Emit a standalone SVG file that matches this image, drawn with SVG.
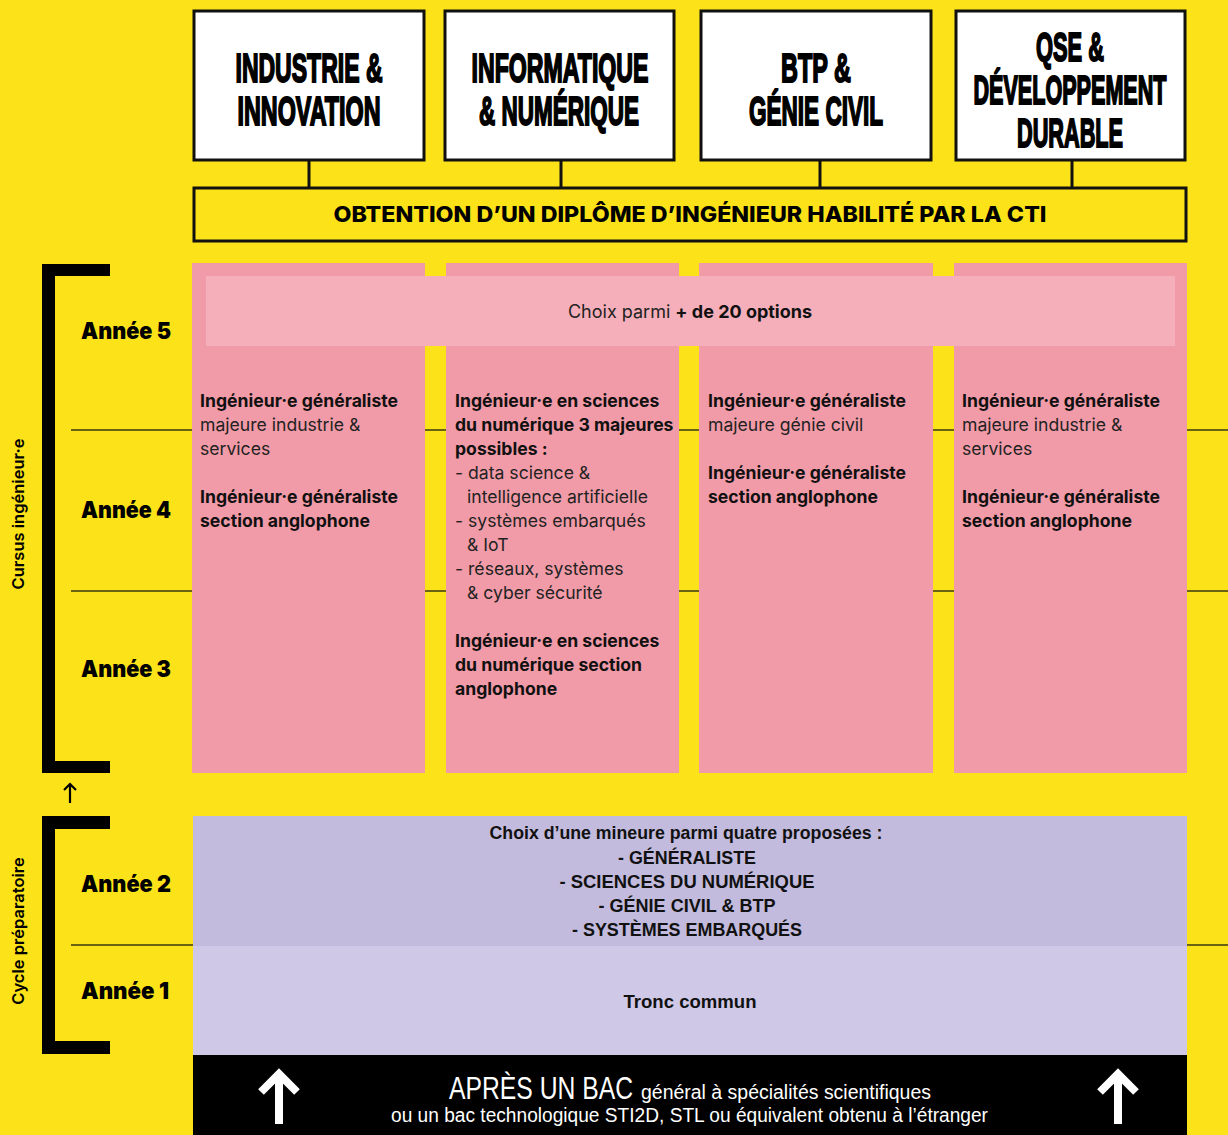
<svg xmlns="http://www.w3.org/2000/svg" width="1228" height="1135" viewBox="0 0 1228 1135">
<defs>
<style>
.hdr{font-family:"Liberation Sans",Arial,sans-serif;font-weight:bold;font-size:41px;fill:#000;stroke:#000;stroke-width:2;text-anchor:middle}
.box{fill:#fff;stroke:#111;stroke-width:3}
.conn{stroke:#111;stroke-width:3;fill:none}
.bar{fill:#FCE319;stroke:#111;stroke-width:3}
.cti{font-family:"Inter","Liberation Sans",sans-serif;font-weight:800;font-size:22px;fill:#000;text-anchor:middle}
.col{fill:#F29BA8}
.band{fill:#F5AFBA}
.b{font-family:"Inter","Liberation Sans",sans-serif;font-weight:700;font-size:17.6px;fill:#111}
.r{font-family:"Inter","Liberation Sans",sans-serif;font-weight:400;font-size:17.6px;fill:#222}
.yr{font-family:"Inter","Liberation Sans",sans-serif;font-weight:900;font-size:23px;fill:#000}
.rot{font-family:"Inter","Liberation Sans",sans-serif;font-weight:600;font-size:16.5px;fill:#000;text-anchor:middle}
.hl{stroke:#3a3a10;stroke-width:1.5}
.cond{font-family:"Liberation Sans",Arial,sans-serif;font-weight:bold;font-size:19px;fill:#111;text-anchor:middle}
.wht{font-family:"Liberation Sans",Arial,sans-serif;fill:#fff}
</style>
</defs>
<rect x="0" y="0" width="1228" height="1135" fill="#FCE319"/>

<!-- horizontal year lines -->
<g id="year-lines">
<line class="hl" x1="71" y1="430" x2="1228" y2="430"/>
<line class="hl" x1="71" y1="591" x2="1228" y2="591"/>
<line class="hl" x1="71" y1="945" x2="1228" y2="945"/>
</g>

<!-- connectors -->
<g id="connectors">
<line class="conn" x1="309" y1="160" x2="309" y2="187"/>
<line class="conn" x1="561" y1="160" x2="561" y2="187"/>
<line class="conn" x1="820" y1="160" x2="820" y2="187"/>
<line class="conn" x1="1072" y1="160" x2="1072" y2="187"/>
</g>

<g id="domain-industrie">
<rect class="box" x="194" y="11" width="230" height="149"/>
<text class="hdr" x="309" y="82" textLength="147" lengthAdjust="spacingAndGlyphs">INDUSTRIE &amp;</text>
<text class="hdr" x="309" y="125" textLength="143" lengthAdjust="spacingAndGlyphs">INNOVATION</text>
</g>
<g id="domain-informatique">
<rect class="box" x="445" y="11" width="229" height="149"/>
<text class="hdr" x="560" y="82" textLength="177" lengthAdjust="spacingAndGlyphs">INFORMATIQUE</text>
<text class="hdr" x="559" y="125" textLength="160" lengthAdjust="spacingAndGlyphs">&amp; NUMÉRIQUE</text>
</g>
<g id="domain-btp">
<rect class="box" x="701" y="11" width="230" height="149"/>
<text class="hdr" x="816" y="82" textLength="70" lengthAdjust="spacingAndGlyphs">BTP &amp;</text>
<text class="hdr" x="816" y="125" textLength="134" lengthAdjust="spacingAndGlyphs">GÉNIE CIVIL</text>
</g>
<g id="domain-qse">
<rect class="box" x="956" y="11" width="229" height="149"/>
<text class="hdr" x="1070" y="61" textLength="68" lengthAdjust="spacingAndGlyphs">QSE &amp;</text>
<text class="hdr" x="1070" y="104" textLength="193" lengthAdjust="spacingAndGlyphs">DÉVELOPPEMENT</text>
<text class="hdr" x="1070" y="147" textLength="106" lengthAdjust="spacingAndGlyphs">DURABLE</text>
</g>

<g id="diplome">
<rect class="bar" x="194" y="188" width="992" height="53"/>
<text class="cti" x="690" y="222" textLength="713" lengthAdjust="spacingAndGlyphs">OBTENTION D’UN DIPLÔME D’INGÉNIEUR HABILITÉ PAR LA CTI</text>
</g>

<!-- pink columns -->
<g id="col-industrie">
<rect class="col" x="192" y="263" width="233" height="510"/>
</g>
<g id="col-informatique">
<rect class="col" x="446" y="263" width="233" height="510"/>
</g>
<g id="col-btp">
<rect class="col" x="699" y="263" width="234" height="510"/>
</g>
<g id="col-qse">
<rect class="col" x="954" y="263" width="233" height="510"/>
</g>

<g id="options">
<rect class="band" x="206" y="276" width="969" height="70"/>
<text x="690" y="318" text-anchor="middle" style="font-family:'Inter','Liberation Sans',sans-serif;font-size:18px;fill:#222"><tspan>Choix parmi </tspan><tspan font-weight="700" fill="#111">+ de 20 options</tspan></text>
</g>

<g id="text-industrie">
<text class="b" x="200" y="407">Ingénieur·e généraliste</text>
<text class="r" x="200" y="431">majeure industrie &amp;</text>
<text class="r" x="200" y="455">services</text>
<text class="b" x="200" y="503">Ingénieur·e généraliste</text>
<text class="b" x="200" y="527">section anglophone</text>
</g>
<g id="text-informatique">
<text class="b" x="455" y="407">Ingénieur·e en sciences</text>
<text class="b" x="455" y="431">du numérique 3 majeures</text>
<text class="b" x="455" y="455">possibles :</text>
<text class="r" x="455" y="479">- data science &amp;</text>
<text class="r" x="467" y="503">intelligence artificielle</text>
<text class="r" x="455" y="527">- systèmes embarqués</text>
<text class="r" x="467" y="551">&amp; IoT</text>
<text class="r" x="455" y="575">- réseaux, systèmes</text>
<text class="r" x="467" y="599">&amp; cyber sécurité</text>
<text class="b" x="455" y="647">Ingénieur·e en sciences</text>
<text class="b" x="455" y="671">du numérique section</text>
<text class="b" x="455" y="695">anglophone</text>
</g>
<g id="text-btp">
<text class="b" x="708" y="407">Ingénieur·e généraliste</text>
<text class="r" x="708" y="431">majeure génie civil</text>
<text class="b" x="708" y="479">Ingénieur·e généraliste</text>
<text class="b" x="708" y="503">section anglophone</text>
</g>
<g id="text-qse">
<text class="b" x="962" y="407">Ingénieur·e généraliste</text>
<text class="r" x="962" y="431">majeure industrie &amp;</text>
<text class="r" x="962" y="455">services</text>
<text class="b" x="962" y="503">Ingénieur·e généraliste</text>
<text class="b" x="962" y="527">section anglophone</text>
</g>

<!-- brackets -->
<g id="bracket-cursus">
<path d="M110 264 H42 V773 H110 V761 H55 V276 H110 Z" fill="#000"/>
<text class="rot" transform="translate(24 514) rotate(-90)">Cursus ingénieur·e</text>
</g>
<g id="bracket-cycle">
<path d="M110 816 H42 V1054 H110 V1041 H55 V829 H110 Z" fill="#000"/>
<text class="rot" transform="translate(24 931) rotate(-90)">Cycle préparatoire</text>
</g>
<g id="small-arrow">
<path d="M70 803 V784 M64 790 L70 784 L76 790" stroke="#000" stroke-width="2.2" fill="none"/>
</g>

<g id="years">
<text class="yr" x="81" y="339" textLength="90" lengthAdjust="spacingAndGlyphs">Année 5</text>
<text class="yr" x="81" y="518" textLength="90" lengthAdjust="spacingAndGlyphs">Année 4</text>
<text class="yr" x="81" y="677" textLength="90" lengthAdjust="spacingAndGlyphs">Année 3</text>
<text class="yr" x="81" y="892" textLength="90" lengthAdjust="spacingAndGlyphs">Année 2</text>
<text class="yr" x="81" y="999" textLength="88" lengthAdjust="spacingAndGlyphs">Année 1</text>
</g>

<g id="annee2">
<rect x="193" y="816" width="994" height="130" fill="#C3BBDD"/>
<text class="cond" x="686" y="839" textLength="393" lengthAdjust="spacingAndGlyphs">Choix d’une mineure parmi quatre proposées  :</text>
<text class="cond" x="687" y="864" textLength="138" lengthAdjust="spacingAndGlyphs">- GÉNÉRALISTE</text>
<text class="cond" x="687" y="888" textLength="255" lengthAdjust="spacingAndGlyphs">- SCIENCES DU NUMÉRIQUE</text>
<text class="cond" x="687" y="912" textLength="177" lengthAdjust="spacingAndGlyphs">- GÉNIE CIVIL &amp; BTP</text>
<text class="cond" x="687" y="936" textLength="230" lengthAdjust="spacingAndGlyphs">- SYSTÈMES EMBARQUÉS</text>
</g>
<g id="annee1">
<rect x="193" y="946" width="994" height="109" fill="#CFC8E6"/>
<text class="cond" x="690" y="1008" textLength="133" lengthAdjust="spacingAndGlyphs">Tronc commun</text>
</g>

<g id="bac">
<rect x="193" y="1055" width="994" height="80" fill="#000"/>
<path d="M279 1124 V1075 M261 1092 L279 1074 L297 1092" stroke="#fff" stroke-width="8" fill="none" stroke-linejoin="miter"/>
<path d="M1118 1124 V1075 M1100 1092 L1118 1074 L1136 1092" stroke="#fff" stroke-width="8" fill="none" stroke-linejoin="miter"/>
<text class="wht" y="1099"><tspan x="449" font-size="32" textLength="184" lengthAdjust="spacingAndGlyphs">APRÈS UN BAC</tspan><tspan x="641" font-size="20" textLength="290" lengthAdjust="spacingAndGlyphs">général à spécialités scientifiques</tspan></text>
<text class="wht" x="391" y="1122" font-size="20" textLength="597" lengthAdjust="spacingAndGlyphs">ou un bac technologique STI2D, STL ou équivalent obtenu à l’étranger</text>
</g>
</svg>
